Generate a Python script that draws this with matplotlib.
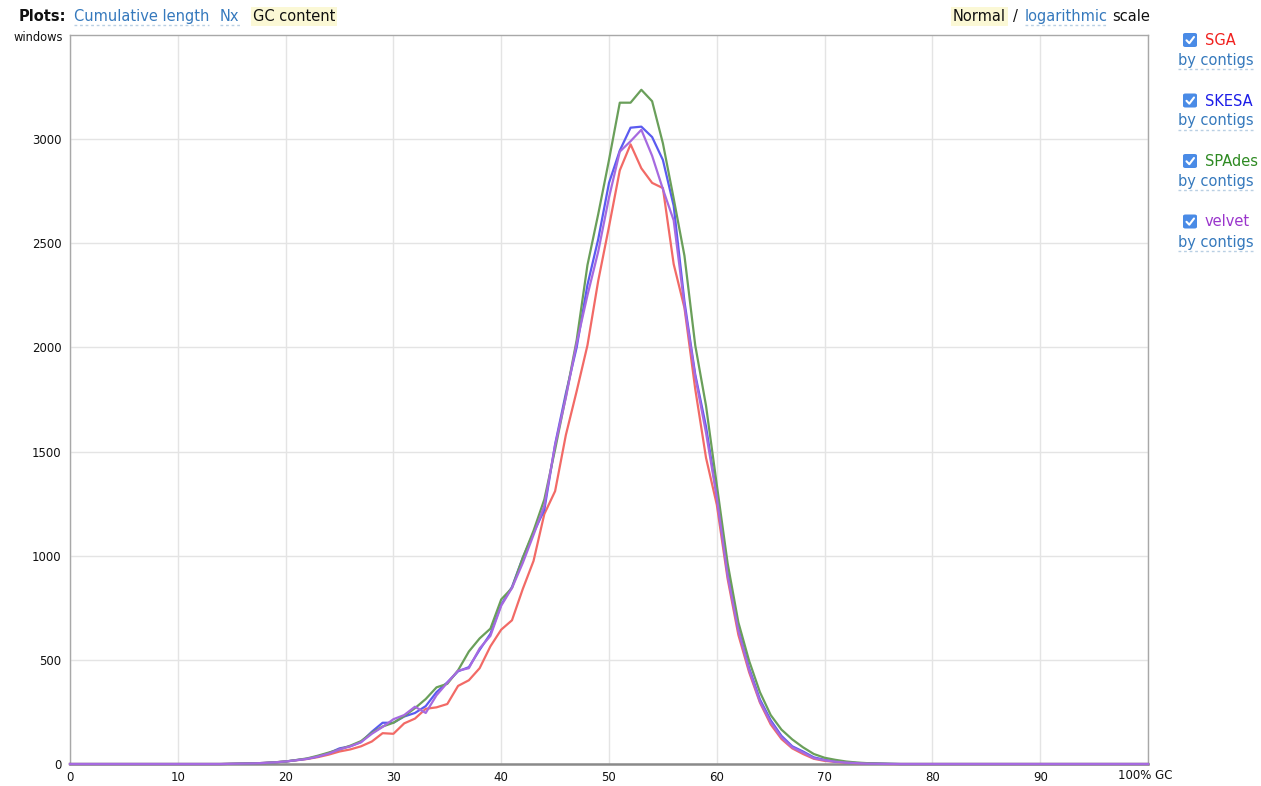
import matplotlib.pyplot as plt
from matplotlib.patches import FancyBboxPatch
from matplotlib.lines import Line2D

W, H = 1261, 786

# GC content histogram: number of windows per GC percent (0..100)
gc_percent = list(range(101))

sga = [0] * 15 + [
    1, 2, 3, 5, 8, 12, 18, 24, 33, 45,                      # 15-24
    60, 70, 85, 108, 148, 145, 195, 218, 265, 272,          # 25-34
    288, 375, 402, 460, 565, 645, 690, 840, 975, 1200,      # 35-44
    1310, 1580, 1790, 2010, 2320, 2580, 2850, 2975, 2860, 2790,  # 45-54
    2765, 2400, 2190, 1800, 1470, 1245, 890, 620, 440, 295,      # 55-64
    190, 120, 75, 48, 25, 15, 10, 6, 4, 2,                  # 65-74
    1,                                                      # 75
] + [0] * 25

skesa = [0] * 15 + [
    1, 2, 3, 5, 8, 12, 19, 25, 36, 52,
    75, 85, 105, 155, 198, 198, 228, 245, 278, 345,
    392, 445, 465, 548, 625, 765, 850, 990, 1110, 1220,
    1535, 1780, 2000, 2300, 2520, 2790, 2945, 3055, 3060, 3010,
    2900, 2680, 2220, 1870, 1620, 1290, 920, 650, 460, 310,
    210, 135, 85, 60, 32, 20, 12, 8, 5, 3,
    2, 1,
] + [0] * 24

spades = [0] * 15 + [
    1, 2, 3, 5, 8, 12, 19, 27, 40, 55,
    70, 88, 110, 150, 180, 198, 230, 268, 312, 368,
    385, 450, 540, 603, 650, 790, 845, 990, 1120, 1270,
    1510, 1765, 2035, 2395, 2640, 2900, 3175, 3175, 3237, 3182,
    2980, 2715, 2440, 2010, 1720, 1340, 965, 680, 495, 345,
    235, 165, 118, 80, 48, 30, 20, 12, 7, 4,
    2, 1,
] + [0] * 24

velvet = [0] * 15 + [
    1, 2, 3, 5, 8, 12, 18, 25, 36, 50,
    70, 85, 105, 145, 178, 215, 235, 275, 245, 330,
    390, 448, 460, 555, 615, 760, 845, 965, 1100, 1240,
    1530, 1760, 2020, 2250, 2460, 2720, 2940, 2990, 3045, 2920,
    2760, 2610, 2200, 1860, 1590, 1280, 905, 640, 450, 300,
    200, 128, 80, 55, 28, 18, 11, 7, 4, 2,
    1,
] + [0] * 25

assemblers = ["SGA", "SKESA", "SPAdes", "velvet"]
series = [sga, skesa, spades, velvet]
line_colors = ["#f26a66", "#5b5bf0", "#6a9f5a", "#a66ae0"]
name_colors = ["#f0201e", "#1c1ce8", "#2e8a22", "#9a35cc"]
x_ticks = list(range(0, 101, 10))
x_labels = [str(t) for t in x_ticks[:-1]] + [""]
y_ticks = list(range(0, 3001, 500))

LINK = "#3579bd"
HILITE = "#fbf8d5"
DASH = "#b9cfe3"


def px(x, y):
    return x / W, 1 - y / H


fig = plt.figure(figsize=(W / 100, H / 100), dpi=100)
fig.patch.set_facecolor("white")
ax = fig.add_axes([70 / W, 1 - 764 / H, (1148 - 70) / W, (764 - 35) / H])

for ys, c in zip(series, line_colors):
    ax.plot(gc_percent, ys, color=c, lw=1.6, zorder=3, clip_on=False,
            solid_joinstyle="round")

ax.set_xlim(0, 100)
ax.set_ylim(0, 3500)
ax.set_xticks(x_ticks)
ax.set_xticklabels(x_labels)
ax.set_yticks(y_ticks)
ax.grid(color="#e4e4e4", lw=1)
ax.set_axisbelow(True)
ax.tick_params(length=0, labelsize=8.5, colors="#111111")
ax.tick_params(axis="y", pad=6)
ax.tick_params(axis="x", pad=5)
for side in ("left", "top", "right"):
    ax.spines[side].set_color("#a8a8a8")
    ax.spines[side].set_linewidth(1)
ax.spines["bottom"].set_color("#8a8a8a")
ax.spines["bottom"].set_linewidth(1.8)

ax.annotate("100% GC", xy=(100, 0), xycoords=("data", "axes fraction"),
            xytext=(-30, -5), textcoords="offset pixels", ha="left", va="top",
            fontsize=8.5, color="#111111")
fig.text(*px(63, 41), "windows", ha="right", va="baseline", fontsize=8.3,
         color="#111111")

renderer = fig.canvas.get_renderer()


def word(x, y, s, color="#111111", weight="normal", link=False, hilite=False,
         size=10.5):
    kw = {}
    if hilite:
        kw["bbox"] = dict(boxstyle="square,pad=0.12", fc=HILITE, ec="none")
    t = fig.text(*px(x, y), s, ha="left", va="baseline", fontsize=size,
                 color=color, fontweight=weight, **kw)
    if link:
        w = t.get_window_extent(renderer).width
        fig.add_artist(Line2D([x / W, (x + w) / W], [1 - (y + 4) / H] * 2,
                              color=DASH, lw=1, ls=(0, (2, 2))))
    return t


# header: plot switcher and scale switcher
word(19, 21, "Plots:", weight="bold")
word(74, 21, "Cumulative length", color=LINK, link=True)
word(220, 21, "Nx", color=LINK, link=True)
word(253, 21, "GC content", hilite=True)
word(953, 21, "Normal", hilite=True)
word(1013, 21, "/")
word(1025, 21, "logarithmic", color=LINK, link=True)
word(1112, 21, "scale")

# legend with checkboxes
for i, (name, c) in enumerate(zip(assemblers, name_colors)):
    cy = 40 + i * 60.5
    x0, y0 = px(1183, cy + 7)
    box = FancyBboxPatch((x0, y0), 14 / W, 14 / H,
                         boxstyle="round,pad=0,rounding_size=0.002",
                         transform=fig.transFigure, fc="#4a8be6", ec="none")
    fig.add_artist(box)
    cx = [1186.5, 1189.3, 1194.0]
    cyy = [cy + 0.3, cy + 3.2, cy - 3.0]
    fig.add_artist(Line2D([v / W for v in cx], [1 - v / H for v in cyy],
                          color="white", lw=1.5, solid_capstyle="round"))
    word(1205, cy + 5, name, color=c)
    word(1178, cy + 25, "by contigs", color=LINK, link=True)

fig.savefig("out.png", dpi=100)
